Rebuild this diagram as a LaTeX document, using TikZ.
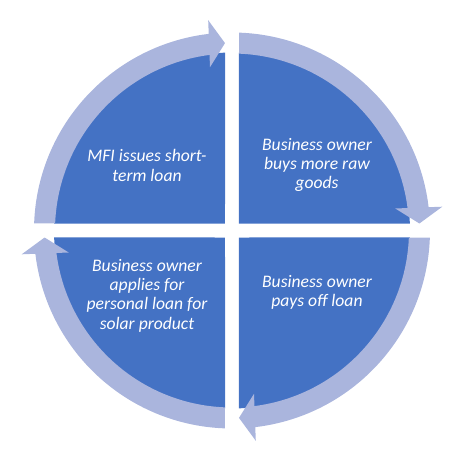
\documentclass[tikz,border=0pt]{standalone}
\usepackage{fontspec}
\setmainfont{Carlito}
\definecolor{pieblue}{RGB}{68,114,196}
\definecolor{ringblue}{RGB}{170,181,221}
\tikzset{
  quad/.style={fill=pieblue, draw=none},
  ring/.style={fill=ringblue, draw=none},
  label/.style={text=white, align=center, font=\fontsize{13.2}{14.5}\selectfont\itshape, inner sep=0pt}
}
\begin{document}
\begin{tikzpicture}[x=0.75pt,y=0.75pt]
\useasboundingbox (-232,-230.5) rectangle (240,230.5);
% quadrants and ring arrows, drawn for the top-right one and rotated
\foreach \r in {0,90,180,270}{
  \begin{scope}[rotate=\r]
    \path[quad] (7,7) -- (87.75:178) arc[start angle=87.75, end angle=2.25, radius=178] -- cycle;
    \path[ring] (87.97:198) arc[start angle=87.97, end angle=6, radius=198]
      -- (6:177) arc[start angle=6, end angle=87.73, radius=177] -- cycle;
    \path[ring] (163.3,22.0) -- (210.3,23.8) -- (187.4,7.0) -- cycle;
  \end{scope}
}
\node[label] (tl) at (-85,65) {MFI issues short-\\term loan};
\node[label] (tr) at (85,65.5) {Business owner\\buys more raw\\goods};
\node[label] (br) at (85,-62) {Business owner\\pays off loan};
\node[label] (bl) at (-85,-65) {Business owner\\applies for\\personal loan for\\solar product};
\end{tikzpicture}
\end{document}
